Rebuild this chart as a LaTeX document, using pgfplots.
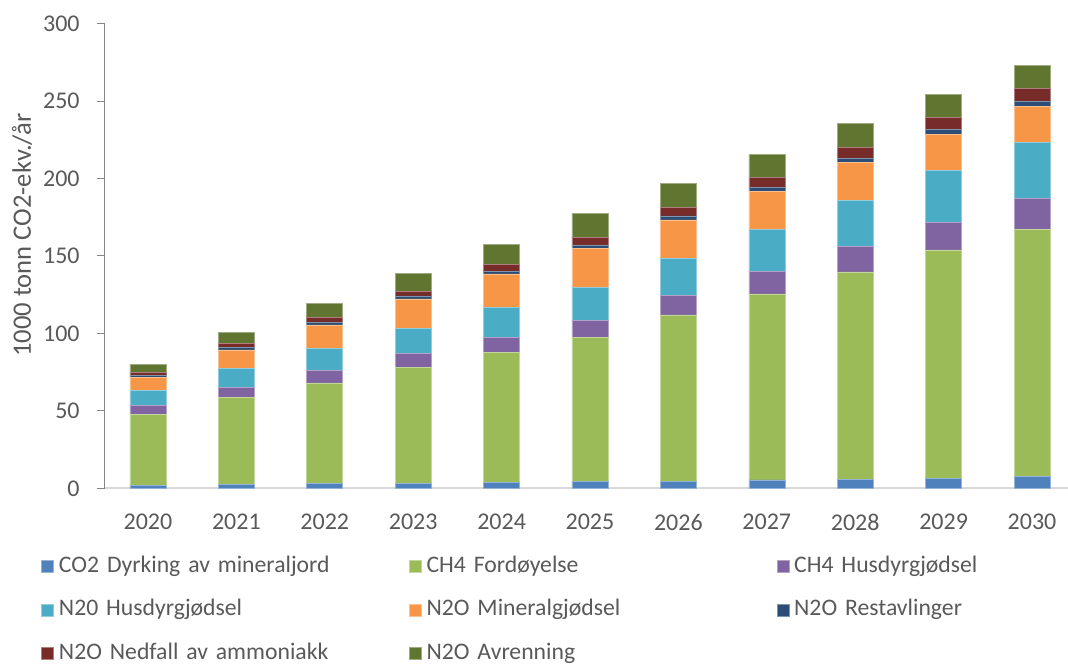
\documentclass[border=0pt]{standalone}
\usepackage{fontspec}
\setmainfont{Carlito}
\usepackage{pgfplots}
\pgfplotsset{compat=1.18}
\usepackage{pgfplotstable}
\definecolor{cA}{HTML}{4F81BD}
\definecolor{cB}{HTML}{9BBB59}
\definecolor{cC}{HTML}{8064A2}
\definecolor{cD}{HTML}{4BACC6}
\definecolor{cE}{HTML}{F79646}
\definecolor{cF}{HTML}{2C4D75}
\definecolor{cG}{HTML}{772C2A}
\definecolor{cH}{HTML}{5F7530}
\definecolor{txt}{HTML}{595959}
\definecolor{yax}{HTML}{868686}
\definecolor{xax}{HTML}{D9D9D9}

\pgfplotstableread{
x CO2 CH4F CH4H N2OH N2OM Rest Ned Avr
0 1.8 45.8 5.8 10.0 8.3 1.5 1.5 5.4
1 2.5 56.1 6.4 12.5 11.9 1.4 2.6 7.1
2 3.1 65.0 7.9 14.5 15.0 1.9 2.8 9.3
3 3.4 74.5 9.1 16.5 18.8 1.9 3.2 11.4
4 4.0 83.6 10.1 18.9 21.8 1.9 4.3 13.1
5 4.8 92.7 11.2 21.1 25.2 2.1 5.0 15.4
6 4.7 107.3 12.7 23.9 24.7 2.6 5.6 15.1
7 5.5 120.0 14.6 27.1 24.7 2.4 6.2 15.1
8 5.9 133.8 16.3 30.1 24.4 2.7 6.7 15.5
9 6.6 147.3 18.0 33.1 23.7 3.0 7.5 15.3
10 7.6 159.8 19.8 35.9 23.2 3.5 8.4 15.0
}\data

\begin{document}
\fontsize{12pt}{14pt}\selectfont
\begin{tikzpicture}
\begin{axis}[
  name=ax,
  width=481.5pt, height=232.5pt, scale only axis,
  xmin=-0.486, xmax=10.407, ymin=0, ymax=300,
  ybar stacked, bar width=18pt,
  axis x line*=bottom, axis y line*=left,
  x axis line style={draw=xax, line width=1pt, -},
  y axis line style={draw=yax, line width=0.5pt, -},
  xtick={0,...,10},
  xticklabels={2020,2021,2022,2023,2024,2025,2026,2027,2028,2029,2030},
  major x tick style={draw=none},
  ytick={0,50,...,300},
  tick align=outside, major tick length=4pt,
  ytick style={draw=yax, line width=0.5pt},
  /pgf/number format/assume math mode=true,
  tick label style={font=\fontsize{12pt}{14pt}\selectfont, text=txt},
  yticklabel style={anchor=east, inner sep=0pt, xshift=-8.5pt},
  xticklabel style={anchor=north, inner sep=0pt, yshift=-8.5pt},
  ylabel={1000 tonn CO2-ekv./år},
  every axis y label/.style={at={(axis description cs:0,0.545)}, xshift=-41.5pt, rotate=90, anchor=center, font=\fontsize{13.3pt}{15pt}\selectfont, text=txt},
  legend columns=3,
  legend image code/.code={\fill[#1] (0pt,-3pt) rectangle (6pt,3pt);},
  legend style={at={(axis description cs:0,0)}, anchor=north west, xshift=-32pt, yshift=-33.25pt,
    draw=none, fill=none, inner sep=0pt, row sep=10.75pt,
    nodes={inner sep=0pt, text width=175pt, align=left, text height=8.5pt, text depth=2.5pt,
      font=\fontsize{11.85pt}{14pt}\selectfont, text=txt},
    /tikz/every odd column/.style={column sep=2.5pt}},
]
\addplot[fill=cA, draw=cA!60!white, line width=0.3pt] table[x=x, y=CO2] {\data};
\addlegendentry{CO2 Dyrking av mineraljord}
\addplot[fill=cB, draw=cB!60!white, line width=0.3pt] table[x=x, y=CH4F] {\data};
\addlegendentry{CH4 Fordøyelse}
\addplot[fill=cC, draw=cC!60!white, line width=0.3pt] table[x=x, y=CH4H] {\data};
\addlegendentry{CH4 Husdyrgjødsel}
\addplot[fill=cD, draw=cD!60!white, line width=0.3pt] table[x=x, y=N2OH] {\data};
\addlegendentry{N20 Husdyrgjødsel}
\addplot[fill=cE, draw=cE!60!white, line width=0.3pt] table[x=x, y=N2OM] {\data};
\addlegendentry{N2O Mineralgjødsel}
\addplot[fill=cF, draw=cF!60!white, line width=0.3pt] table[x=x, y=Rest] {\data};
\addlegendentry{N2O Restavlinger}
\addplot[fill=cG, draw=cG!60!white, line width=0.3pt] table[x=x, y=Ned] {\data};
\addlegendentry{N2O Nedfall av ammoniakk}
\addplot[fill=cH, draw=cH!60!white, line width=0.3pt] table[x=x, y=Avr] {\data};
\addlegendentry{N2O Avrenning}
\end{axis}
\pgfresetboundingbox
\useasboundingbox ([xshift=-52.5pt, yshift=-87.75pt]ax.south west) rectangle ([yshift=11.75pt]ax.north east);
\end{tikzpicture}
\end{document}
